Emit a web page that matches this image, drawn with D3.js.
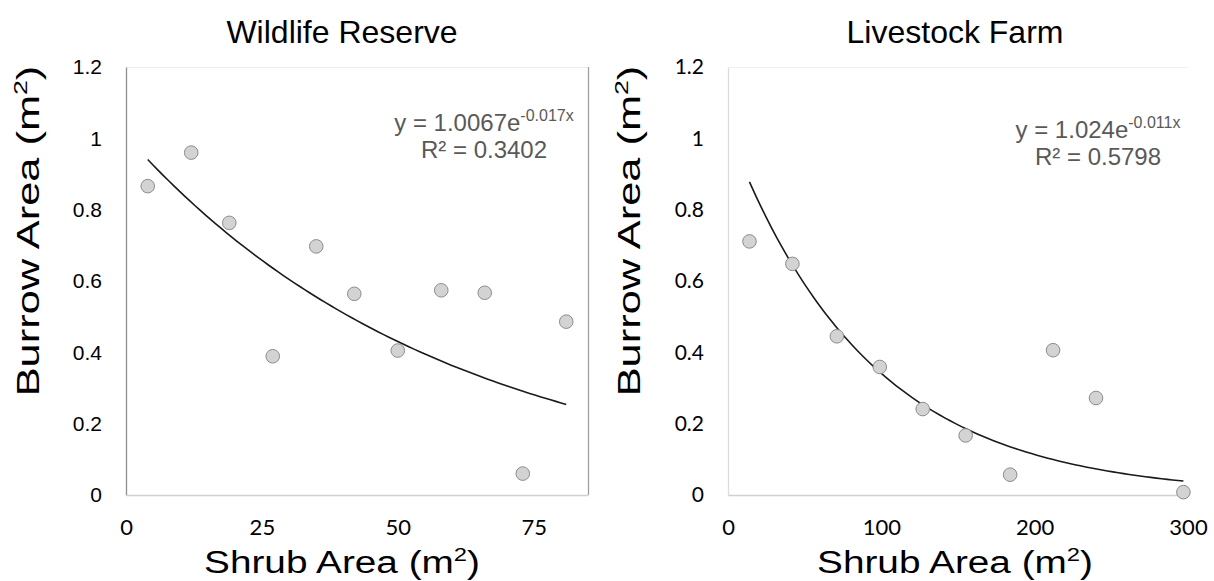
<!DOCTYPE html>
<html>
<head>
<meta charset="utf-8">
<script src="https://cdn.jsdelivr.net/npm/d3@7"></script>
<style>
  body { margin: 0; background: #fff; }
  svg { display: block; }
</style>
</head>
<body>
<svg id="chart" width="1214" height="581"></svg>
<script>
// data
const reserveShrub  = [4, 12, 19, 27, 35, 42, 50, 58, 66, 73, 81];
const reserveBurrow = [0.866, 0.96, 0.763, 0.389, 0.697, 0.564, 0.405, 0.574, 0.567, 0.06, 0.486];
const farmShrub  = [14, 42, 71, 99, 127, 155, 184, 212, 240, 297];
const farmBurrow = [0.711, 0.648, 0.445, 0.359, 0.241, 0.167, 0.057, 0.406, 0.272, 0.008];

const yTicks = [0, 0.2, 0.4, 0.6, 0.8, 1, 1.2];
const reserveXTicks = [0, 25, 50, 75];
const farmXTicks = [0, 100, 200, 300];

// trend line fits shown on the chart: y = a * e^(b x)
const reserveFit = {a: 1.0067, b: -0.017, r2: "0.3402"};
const farmFit = {a: 1.024, b: -0.011, r2: "0.5798"};

const svg = d3.select("#chart");
const arial = "Arial, 'Liberation Sans', sans-serif";

function drawPanel(opt) {
  const x = d3.scaleLinear().domain(opt.xDomain).range(opt.xRange);
  const y = d3.scaleLinear().domain([0, 1.2]).range([495, 67]);
  const g = svg.append("g");

  // frame
  g.append("line").attr("x1", x.range()[0]).attr("x2", x.range()[1])
    .attr("y1", 67.5).attr("y2", 67.5).attr("stroke", opt.topColor).attr("stroke-width", 1);
  if (opt.rightColor) {
    g.append("line").attr("x1", x.range()[1] + 0.5).attr("x2", x.range()[1] + 0.5)
      .attr("y1", 67).attr("y2", 495).attr("stroke", opt.rightColor).attr("stroke-width", 1.3);
  }

  // axes
  const yAxis = g.append("g").attr("transform", `translate(${x.range()[0]},0)`)
    .call(d3.axisLeft(y).tickValues(yTicks).tickSize(0).tickPadding(24)
      .tickFormat(d => d === 0 || d === 1 ? String(d) : d3.format(".1f")(d)));
  yAxis.select(".domain").attr("stroke", opt.leftColor).attr("stroke-width", 1.3);
  yAxis.selectAll("text").attr("font-family", opt.yTickFont).attr("font-size", 21).attr("fill", "#000");

  const xAxis = g.append("g").attr("transform", "translate(0,495)")
    .call(d3.axisBottom(x).tickValues(opt.xTicks).tickSize(0).tickPadding(24));
  xAxis.select(".domain").attr("stroke", "#d0d0d0").attr("stroke-width", 1.3);
  xAxis.selectAll("text").attr("font-family", "Lato, 'Open Sans', sans-serif").attr("font-size", 22).attr("fill", "#000");

  // trend line
  const fit = opt.fit;
  const xs = d3.range(d3.min(opt.xs), d3.max(opt.xs) + 0.01, (d3.max(opt.xs) - d3.min(opt.xs)) / 80);
  g.append("path")
    .datum(xs)
    .attr("fill", "none").attr("stroke", "#1a1a1a").attr("stroke-width", 1.6)
    .attr("d", d3.line().x(d => x(d)).y(d => y(fit.a * Math.exp(fit.b * d))));

  // points
  g.selectAll("circle.pt").data(opt.xs).join("circle")
    .attr("class", "pt")
    .attr("cx", d => x(d))
    .attr("cy", (d, i) => y(opt.ys[i]))
    .attr("r", 6.8)
    .attr("fill", "#d3d3d3").attr("stroke", "#8c8c8c").attr("stroke-width", 1);

  // equation label
  const eq = g.append("text").attr("x", opt.eqX).attr("y", opt.eqY)
    .attr("text-anchor", "middle").attr("font-family", arial)
    .attr("font-size", 24).attr("fill", "#595959");
  eq.append("tspan").text(`y = ${fit.a}e`);
  eq.append("tspan").attr("font-size", 16).attr("dy", -10).text(`${fit.b}x`);
  g.append("text").attr("x", opt.eqX).attr("y", opt.eqY + 27)
    .attr("text-anchor", "middle").attr("font-family", arial)
    .attr("font-size", 24).attr("fill", "#595959").text(`R² = ${fit.r2}`);

  // titles
  g.append("text").attr("x", opt.titleX).attr("y", 43).attr("text-anchor", "middle")
    .attr("font-family", arial).attr("font-size", 32).text(opt.title);

  const xt = g.append("text").attr("transform", `translate(${opt.titleX},573) scale(1.25,1)`)
    .attr("text-anchor", "middle")
    .attr("font-family", arial).attr("font-size", 31);
  xt.append("tspan").text("Shrub Area (m");
  xt.append("tspan").attr("font-size", 19).attr("dy", -12).text("2");
  xt.append("tspan").attr("dy", 12).text(")");

  const yt = g.append("text").attr("transform", `translate(${opt.yTitleX},231) rotate(-90) scale(1.4,1)`)
    .attr("text-anchor", "middle")
    .attr("font-family", arial).attr("font-size", 31);
  yt.append("tspan").text("Burrow Area (m");
  yt.append("tspan").attr("font-size", 19).attr("dy", -12).text("2");
  yt.append("tspan").attr("dy", 12).text(")");
}

drawPanel({
  title: "Wildlife Reserve", titleX: 342, yTitleX: 39,
  xs: reserveShrub, ys: reserveBurrow, fit: reserveFit,
  xDomain: [0, 85], xRange: [126, 588], xTicks: reserveXTicks,
  leftColor: "#8f8f8f", rightColor: "#a0a0a0", topColor: "#ececec",
  yTickFont: arial,
  eqX: 484, eqY: 131
});

drawPanel({
  title: "Livestock Farm", titleX: 955, yTitleX: 640,
  xs: farmShrub, ys: farmBurrow, fit: farmFit,
  xDomain: [0, 300], xRange: [728, 1188], xTicks: farmXTicks,
  leftColor: "#dcdcdc", rightColor: null, topColor: "#f0f0f0",
  yTickFont: "Lato, 'Open Sans', sans-serif",
  eqX: 1098, eqY: 138
});
</script>
</body>
</html>
